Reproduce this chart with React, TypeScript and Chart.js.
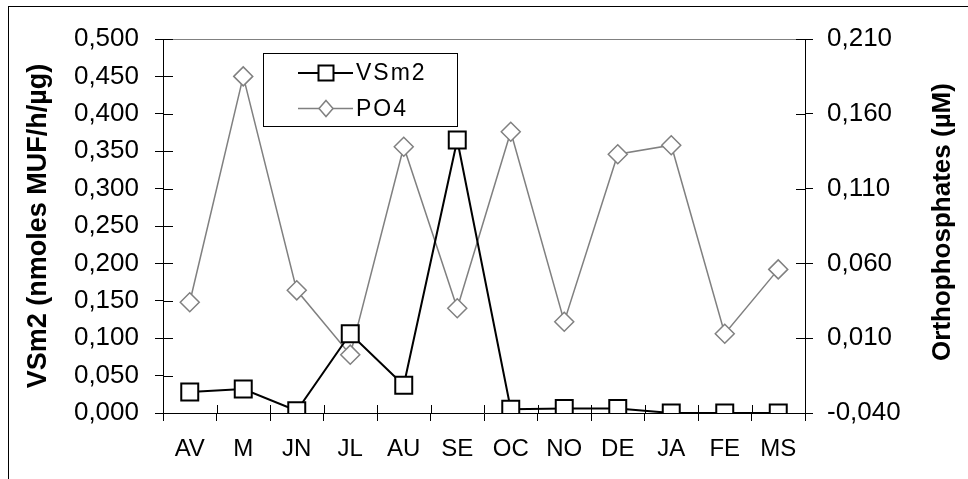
import React, { useEffect, useRef } from 'react';
import { Chart, registerables } from 'chart.js';

Chart.register(...registerables);

const CATEGORIES = ['AV', 'M', 'JN', 'JL', 'AU', 'SE', 'OC', 'NO', 'DE', 'JA', 'FE', 'MS'];
const VSM2 = [0.028, 0.032, 0.003, 0.106, 0.037, 0.365, 0.005, 0.006, 0.006, 0, 0, 0];
const PO4 = [0.034, 0.185, 0.042, -0.001, 0.138, 0.030, 0.148, 0.021, 0.133, 0.139, 0.013, 0.056];
const LEFT_TICKS = [0, 0.05, 0.1, 0.15, 0.2, 0.25, 0.3, 0.35, 0.4, 0.45, 0.5];
const RIGHT_TICKS = [-0.04, 0.01, 0.06, 0.11, 0.16, 0.21];
const SERIES_NAMES = ['VSm2', 'PO4'];
const LEFT_TITLE = 'VSm2 (nmoles MUF/h/µg)';
const RIGHT_TITLE = 'Orthophosphates (µM)';

const FONT = '"Liberation Sans", Arial, sans-serif';
const GRAY = '#808080';
const fmt = (v: number) => v.toFixed(3).replace('.', ',');

const decor = {
  id: 'decor',
  beforeDraw(chart: any) {
    const ctx = chart.ctx;
    ctx.save();
    ctx.fillStyle = '#fff';
    ctx.fillRect(0, 0, chart.width, chart.height);
    ctx.strokeStyle = '#000';
    ctx.lineWidth = 1;
    ctx.strokeRect(8.5, 6.5, chart.width + 10, chart.height + 10);
    ctx.restore();
  },
  beforeDatasetsDraw(chart: any) {
    const { ctx, chartArea: a, scales } = chart;
    ctx.save();
    ctx.lineWidth = 1;
    ctx.strokeStyle = GRAY;
    ctx.beginPath();
    ctx.moveTo(a.left, Math.round(a.top) + 0.5);
    ctx.lineTo(a.right, Math.round(a.top) + 0.5);
    ctx.stroke();
    ctx.strokeStyle = '#000';
    ctx.beginPath();
    LEFT_TICKS.forEach((v) => {
      const y = Math.round(scales.y.getPixelForValue(v)) + 0.5;
      ctx.moveTo(a.left, y);
      ctx.lineTo(a.left + 10, y);
    });
    RIGHT_TICKS.forEach((v) => {
      const y = Math.round(scales.y1.getPixelForValue(v)) + 0.5;
      ctx.moveTo(a.right - 9, y);
      ctx.lineTo(a.right, y);
    });
    const n = CATEGORIES.length;
    for (let i = 0; i <= n; i++) {
      const x = Math.round(a.left + (i * (a.right - a.left)) / n) + 0.5;
      ctx.moveTo(x, a.bottom - 8);
      ctx.lineTo(x, a.bottom);
    }
    ctx.stroke();
    // right axis title, reading bottom to top
    ctx.fillStyle = '#000';
    ctx.font = 'bold 26px ' + FONT;
    ctx.textAlign = 'center';
    ctx.textBaseline = 'middle';
    ctx.translate(943, (a.top + a.bottom) / 2 - 4);
    ctx.rotate(-Math.PI / 2);
    ctx.fillText(RIGHT_TITLE, 0, 0);
    ctx.restore();
  },
  afterDraw(chart: any) {
    const ctx = chart.ctx;
    ctx.save();
    const bx = 263.5, by = 53.5, bw = 194, bh = 73;
    ctx.fillStyle = '#fff';
    ctx.fillRect(bx, by, bw, bh);
    ctx.strokeStyle = '#000';
    ctx.lineWidth = 1;
    ctx.strokeRect(bx, by, bw, bh);
    chart.data.datasets.forEach((ds: any, i: number) => {
      const y = 73 + i * 35.5;
      ctx.strokeStyle = ds.borderColor;
      ctx.lineWidth = i === 0 ? 2 : 1.5;
      ctx.beginPath();
      ctx.moveTo(298, y);
      ctx.lineTo(353, y);
      ctx.stroke();
      ctx.fillStyle = '#fff';
      ctx.beginPath();
      if (i === 0) {
        ctx.rect(326 - 7.5, y - 7.5, 15, 15);
      } else {
        ctx.moveTo(326, y - 8);
        ctx.lineTo(333, y);
        ctx.lineTo(326, y + 8);
        ctx.lineTo(319, y);
        ctx.closePath();
      }
      ctx.fill();
      ctx.stroke();
      ctx.fillStyle = '#000';
      ctx.font = '23px ' + FONT;
      (ctx as any).letterSpacing = '2px';
      ctx.textAlign = 'left';
      ctx.textBaseline = 'middle';
      ctx.fillText(ds.label, 356, y + 1);
      (ctx as any).letterSpacing = '0px';
    });
    ctx.restore();
  },
};

export default function App() {
  const ref = useRef<HTMLCanvasElement | null>(null);
  useEffect(() => {
    if (!ref.current) return;
    const chart = new Chart(ref.current, {
      type: 'line',
      data: {
        labels: CATEGORIES,
        datasets: [
          {
            label: SERIES_NAMES[0],
            data: VSM2,
            yAxisID: 'y',
            borderColor: '#000',
            borderWidth: 2,
            pointStyle: 'rect',
            pointRadius: 12,
            pointHoverRadius: 12,
            pointBorderColor: '#000',
            pointBackgroundColor: '#fff',
            pointBorderWidth: 2,
            tension: 0,
          },
          {
            label: SERIES_NAMES[1],
            data: PO4,
            yAxisID: 'y1',
            borderColor: GRAY,
            borderWidth: 1.5,
            pointStyle: 'rectRot',
            pointRadius: 9.5,
            pointHoverRadius: 9.5,
            pointBorderColor: GRAY,
            pointBackgroundColor: '#fff',
            pointBorderWidth: 1.5,
            tension: 0,
          },
        ],
      },
      options: {
        responsive: false,
        animation: false,
        devicePixelRatio: 1,
        layout: { padding: { top: 39, left: 0, right: 0, bottom: 0 } },
        plugins: { legend: { display: false }, tooltip: { enabled: false } },
        events: [],
        scales: {
          x: {
            offset: true,
            grid: { offset: true, drawOnChartArea: false, drawTicks: true, tickLength: 8, color: '#000', lineWidth: 1 },
            border: { display: true, color: '#000', width: 1 },
            ticks: { color: '#000', font: { family: FONT, size: 24 }, padding: 14, maxRotation: 0, autoSkip: false },
            afterFit: (s: any) => { s.height = 66; },
          },
          y: {
            position: 'left',
            min: 0,
            max: 0.5,
            afterBuildTicks: (s: any) => { s.ticks = LEFT_TICKS.map((v) => ({ value: v })); },
            grid: { drawOnChartArea: false, drawTicks: true, tickLength: 8, color: '#000', lineWidth: 1 },
            border: { display: true, color: '#000', width: 1 },
            ticks: { color: '#000', font: { family: FONT, size: 26 }, padding: 16, callback: (v: any) => fmt(Number(v)) },
            title: { display: true, text: LEFT_TITLE, color: '#000', font: { family: FONT, size: 27, weight: 'bold' }, padding: { top: 22, bottom: 0 } },
            afterFit: (s: any) => { s.width = 163; },
          },
          y1: {
            position: 'right',
            min: -0.04,
            max: 0.21,
            afterBuildTicks: (s: any) => { s.ticks = RIGHT_TICKS.map((v) => ({ value: v })); },
            grid: { drawOnChartArea: false, drawTicks: true, tickLength: 8, color: '#000', lineWidth: 1 },
            border: { display: true, color: '#000', width: 1 },
            ticks: { color: '#000', font: { family: FONT, size: 26 }, padding: 14, callback: (v: any) => fmt(Number(v)) },
            afterFit: (s: any) => { s.width = 163; },
          },
        },
      },
      plugins: [decor],
    } as any);
    return () => chart.destroy();
  }, []);
  return (
    <div style={{ position: 'fixed', left: 0, top: 0, width: 968, height: 479 }}>
      <canvas ref={ref} width={968} height={479} style={{ display: 'block' }} />
    </div>
  );
}
